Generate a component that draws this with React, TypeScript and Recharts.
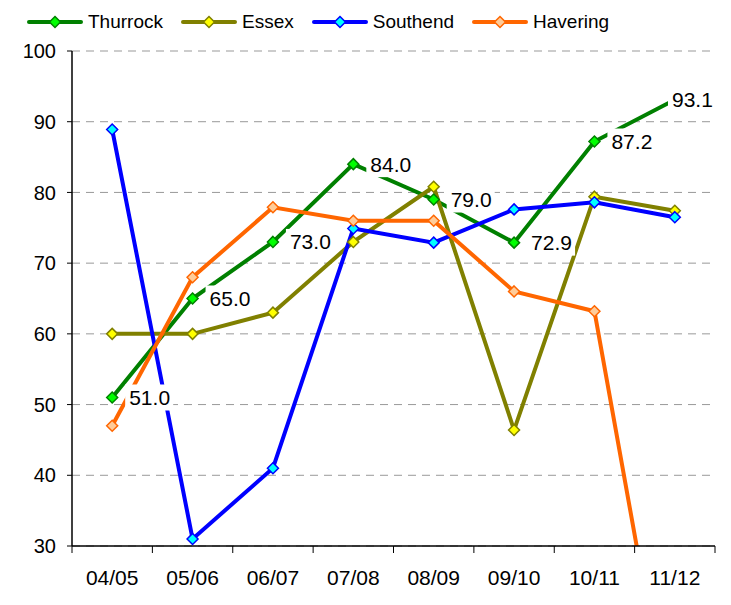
import React from "react";
import {
  LineChart,
  Line,
  XAxis,
  YAxis,
  CartesianGrid,
  LabelList,
} from "recharts";

const categories = ["04/05", "05/06", "06/07", "07/08", "08/09", "09/10", "10/11", "11/12"];
const thurrock = [51.0, 65.0, 73.0, 84.0, 79.0, 72.9, 87.2, 93.1];
const essex = [60, 60, 63, 73, 80.8, 46.4, 79.4, 77.4];
const southend = [88.9, 31, 41, 74.9, 72.9, 77.6, 78.6, 76.5];
const havering = [47, 68, 77.9, 76, 76, 66, 63.2, 0];
const yTicks = [30, 40, 50, 60, 70, 80, 90, 100];

const W = 731;
const H = 605;
const M = { top: 51, right: 16, bottom: 0, left: 0 };
const Y_W = 72;
const PLOT_RIGHT = W - M.right;
const BAND = (W - M.right - Y_W) / categories.length;
const FONT = "'Liberation Sans', Arial, sans-serif";

const series = [
  { key: "thurrock", name: "Thurrock", stroke: "#008000", fill: "#00ff00" },
  { key: "essex", name: "Essex", stroke: "#808000", fill: "#ffff00" },
  { key: "southend", name: "Southend", stroke: "#0000ff", fill: "#00ffff" },
  { key: "havering", name: "Havering", stroke: "#ff6600", fill: "#ffcc99" },
];

const data = categories.map((c, i) => ({
  x: i + 0.5,
  label: c,
  thurrock: thurrock[i],
  essex: essex[i],
  southend: southend[i],
  havering: havering[i],
}));

const diamondPts = (cx: number, cy: number, r: number) =>
  `${cx},${cy - r} ${cx + r},${cy} ${cx},${cy + r} ${cx - r},${cy}`;

const makeDot = (fill: string, stroke: string) => (props: any) => {
  const { cx, cy, index } = props;
  if (cx == null || cy == null) return <g key={`d${index}`} />;
  return (
    <polygon
      key={`d${index}`}
      points={diamondPts(cx, cy, 5.5)}
      fill={fill}
      stroke={stroke}
      strokeWidth={1.5}
    />
  );
};

const XTick = (props: any) => {
  const { x, payload } = props;
  const i = payload.value;
  if (i >= categories.length) return <g />;
  return (
    <text
      x={x + BAND / 2}
      y={577}
      textAnchor="middle"
      dominantBaseline="central"
      fontSize={21}
      fontFamily={FONT}
      fill="#000"
    >
      {categories[i]}
    </text>
  );
};

const renderLabel = (props: any) => {
  const x = props.x ?? props.viewBox?.x;
  const y = props.y ?? props.viewBox?.y;
  if (x == null || y == null) return null;
  const boxW = 48;
  const boxX = Math.min(x + 13, PLOT_RIGHT + 1 - boxW);
  return (
    <g>
      <rect x={boxX} y={y - 13} width={boxW} height={26} fill="#fff" />
      <text
        x={boxX + 4}
        y={y}
        dominantBaseline="central"
        fontSize={21}
        fontFamily={FONT}
        fill="#000"
      >
        {Number(props.value).toFixed(1)}
      </text>
    </g>
  );
};

function Legend() {
  return (
    <div
      style={{
        position: "absolute",
        left: 27,
        top: 10,
        height: 24,
        display: "flex",
        alignItems: "center",
        gap: 18,
        fontFamily: FONT,
        fontSize: 19,
        color: "#000",
        whiteSpace: "nowrap",
      }}
    >
      {series.map((s) => (
        <div key={s.key} style={{ display: "flex", alignItems: "center", gap: 5 }}>
          <svg width={56} height={14} style={{ display: "block" }}>
            <line x1={2} y1={7} x2={54} y2={7} stroke={s.stroke} strokeWidth={4} strokeLinecap="round" />
            <polygon points={diamondPts(28, 7, 5.5)} fill={s.fill} stroke={s.stroke} strokeWidth={1.5} />
          </svg>
          <span style={{ lineHeight: "24px" }}>{s.name}</span>
        </div>
      ))}
    </div>
  );
}

export default function App() {
  return (
    <div style={{ position: "absolute", left: 0, top: 0, width: W, height: H, background: "#fff" }}>
      <LineChart width={W} height={H} data={data} margin={M}>
        <CartesianGrid vertical={false} stroke="#999" strokeDasharray="8 6" />
        <XAxis
          dataKey="x"
          type="number"
          domain={[0, categories.length]}
          ticks={categories.map((_, i) => i).concat([categories.length])}
          interval={0}
          height={59}
          axisLine={{ stroke: "#000", strokeWidth: 1.5 }}
          tickLine={{ stroke: "#000" }}
          tickSize={7}
          tick={(p: any) => <XTick {...p} />}
        />
        <YAxis
          domain={[30, 100]}
          ticks={yTicks}
          interval={0}
          allowDataOverflow
          width={Y_W}
          axisLine={{ stroke: "#000", strokeWidth: 1.5 }}
          tickLine={{ stroke: "#000" }}
          tickSize={5}
          tickMargin={11}
          tick={{ fill: "#000", fontSize: 20, fontFamily: FONT }}
        />
        {series.map((s) => (
          <Line
            key={s.key}
            type="linear"
            dataKey={s.key}
            stroke={s.stroke}
            strokeWidth={4}
            dot={makeDot(s.fill, s.stroke)}
            activeDot={false}
            isAnimationActive={false}
          />
        ))}
        <Line
          type="linear"
          dataKey="thurrock"
          stroke="none"
          dot={false}
          activeDot={false}
          isAnimationActive={false}
        >
          <LabelList dataKey="thurrock" content={renderLabel} />
        </Line>
      </LineChart>
      <Legend />
    </div>
  );
}
